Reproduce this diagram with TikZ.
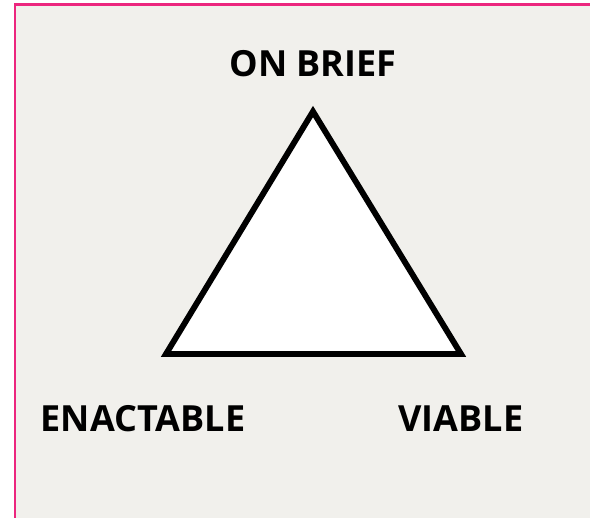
\documentclass[tikz,border=0pt]{standalone}
\usepackage{fontspec}
\setmainfont{Open Sans}
\usepackage{tikz}
\usetikzlibrary{positioning}
\definecolor{cFrame}{RGB}{236,38,126}
\definecolor{cPaper}{RGB}{241,240,236}
\tikzset{
	tlabel/.style={anchor=base, inner sep=0pt,
		font=\fontsize{27}{31}\selectfont\bfseries},
	tline/.style={draw=black, line width=4.4pt, fill=white,
		line join=miter},
	tframe/.style={draw=cFrame, line width=2.2pt, fill=cPaper},
}

\begin{document}
\begin{tikzpicture}[x=0.75pt, y=-0.75pt]
			\useasboundingbox (0,0) rectangle (590,518);
			\path[tframe] (15,4.5) rectangle (600,530);
			\coordinate (top) at (313,111.5);
			\coordinate (bl) at (166,354);
			\coordinate (br) at (461,354);
			\draw[tline] (top) -- (bl) -- (br) -- cycle;
			\node[tlabel] (brief) at (313,76.5) {ON BRIEF};
			\node[tlabel] (enact) at (143,431.5) {ENACTABLE};
			\node[tlabel] (viable) at (461,431.5) {VIABLE};
		\end{tikzpicture}
\end{document}
